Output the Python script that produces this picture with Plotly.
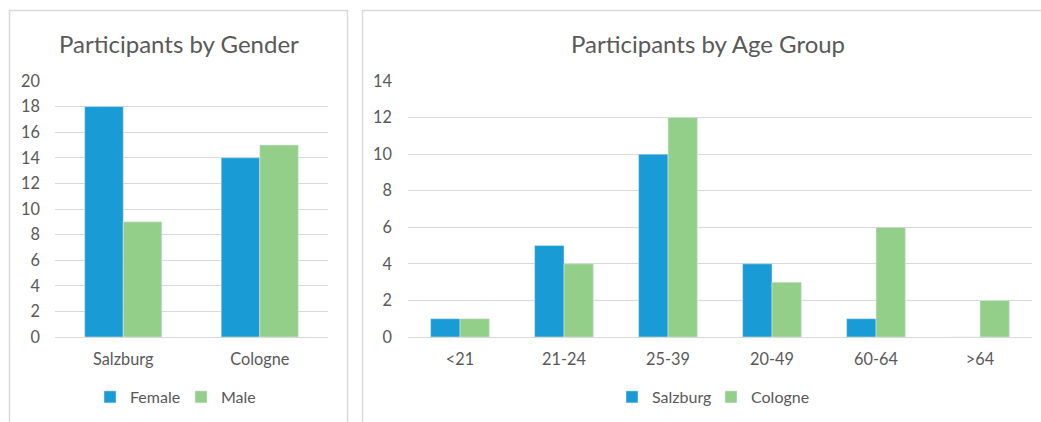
import plotly.graph_objects as go

W, H = 1041, 422

# Data
cities = ["Salzburg", "Cologne"]
female = [18, 14]
male = [9, 15]

age_groups = ["<21", "21-24", "25-39", "20-49", "60-64", ">64"]
salzburg_age = [1, 5, 10, 4, 1, 0]
cologne_age = [1, 4, 12, 3, 6, 2]

BLUE = "#199BD6"
GREEN = "#93CF88"
TXT = "#595959"
GRID = "#D9D9D9"
FONT = "Lato"

def px(x):
    return x / W

def py(y):
    return 1 - y / H

fig = go.Figure()
fig.add_trace(go.Bar(x=cities, y=female, name="Female", marker_color=BLUE,
                     xaxis="x", yaxis="y", legend="legend"))
fig.add_trace(go.Bar(x=cities, y=male, name="Male", marker_color=GREEN,
                     xaxis="x", yaxis="y", legend="legend"))
fig.add_trace(go.Bar(x=age_groups, y=salzburg_age, name="Salzburg", marker_color=BLUE,
                     xaxis="x2", yaxis="y2", legend="legend2"))
fig.add_trace(go.Bar(x=age_groups, y=cologne_age, name="Cologne", marker_color=GREEN,
                     xaxis="x2", yaxis="y2", legend="legend2"))

ydom = [py(337), py(81)]
axis_common = dict(tickfont=dict(family=FONT, size=16.3, color=TXT), showline=False,
                   automargin=False)

fig.update_layout(
    width=W, height=H,
    margin=dict(l=0, r=0, t=0, b=0, pad=0, autoexpand=False),
    paper_bgcolor="white", plot_bgcolor="white",
    bargap=0.435, bargroupgap=0,
    barmode="group",
    font=dict(family=FONT, color=TXT),
    xaxis=dict(domain=[px(55), px(328)], anchor="y", showgrid=False,
               ticks="", ticklabelstandoff=11, zeroline=False, **axis_common),
    yaxis=dict(domain=ydom, anchor="x", range=[0, 20], dtick=2,
               gridcolor=GRID, gridwidth=1.3, zeroline=True, zerolinecolor=GRID,
               zerolinewidth=1.3, ticklabelstandoff=14, **axis_common),
    xaxis2=dict(domain=[px(408), px(1032)], anchor="y2", showgrid=False,
                ticks="", ticklabelstandoff=11, zeroline=False, **axis_common),
    yaxis2=dict(domain=ydom, anchor="x2", range=[0, 14], dtick=2,
                gridcolor=GRID, gridwidth=1.3, zeroline=True, zerolinecolor=GRID,
                zerolinewidth=1.3, ticklabelstandoff=15, **axis_common),
    legend=dict(orientation="h", x=px(181), y=py(397), xanchor="center", yanchor="middle",
                font=dict(family=FONT, size=16, color=TXT), bgcolor="rgba(0,0,0,0)",
                itemwidth=30, tracegroupgap=0, entrywidth=46, entrywidthmode="pixels"),
    legend2=dict(orientation="h", x=px(711), y=py(397), xanchor="center", yanchor="middle",
                 font=dict(family=FONT, size=16, color=TXT), bgcolor="rgba(0,0,0,0)",
                 itemwidth=30, tracegroupgap=0, entrywidth=54, entrywidthmode="pixels"),
    annotations=[
        dict(text="Participants by Gender", x=px(179), y=py(43), xref="paper", yref="paper",
             xanchor="center", yanchor="middle", showarrow=False,
             font=dict(family=FONT, size=24, color=TXT)),
        dict(text="Participants by Age Group", x=px(708), y=py(43), xref="paper", yref="paper",
             xanchor="center", yanchor="middle", showarrow=False,
             font=dict(family=FONT, size=24, color=TXT)),
    ],
    shapes=[
        dict(type="rect", xref="paper", yref="paper", x0=px(9.5), x1=px(347.5),
             y0=py(440), y1=py(10.5), line=dict(color=GRID, width=1.5), fillcolor="rgba(0,0,0,0)",
             layer="below"),
        dict(type="rect", xref="paper", yref="paper", x0=px(362.5), x1=px(1060),
             y0=py(440), y1=py(10.5), line=dict(color=GRID, width=1.5), fillcolor="rgba(0,0,0,0)",
             layer="below"),
    ],
)

fig.write_html(
    "out.html",
    config={"displayModeBar": False},
    post_script=(
        "document.documentElement.style.margin='0';"
        "document.body.style.margin='0';document.body.style.padding='0';"
        "document.body.style.overflow='hidden';"
        "document.documentElement.style.overflow='hidden';"
    ),
)
